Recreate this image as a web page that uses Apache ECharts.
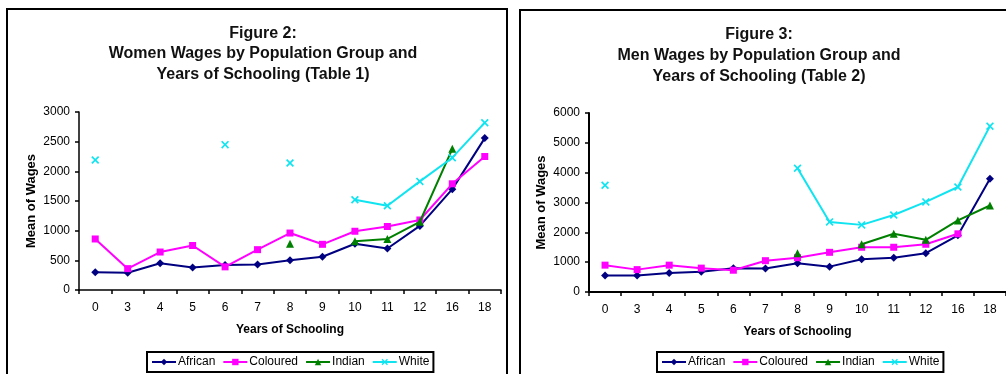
<!DOCTYPE html>
<html>
<head>
<meta charset="utf-8">
<script src="https://cdn.jsdelivr.net/npm/echarts@6/dist/echarts.min.js"></script>
<style>
  html, body { margin: 0; padding: 0; background: #fff; }
  #main { width: 1006px; height: 374px; }
</style>
</head>
<body>
<div id="main"></div>
<script>
  // years of schooling (category axis)
  var years = ['0', '3', '4', '5', '6', '7', '8', '9', '10', '11', '12', '16', '18'];
  var groups = ['African', 'Coloured', 'Indian', 'White'];

  // Figure 2 - women
  var womenAfrican = [300, 290, 450, 380, 420, 430, 500, 560, 780, 700, 1080, 1700, 2560];
  var womenColoured = [860, 360, 640, 750, 390, 680, 960, 770, 990, 1070, 1180, 1790, 2250];
  var womenIndian = [null, null, null, null, null, null, 780, null, 820, 860, 1150, 2380, null];
  var womenWhite = [2190, null, null, null, 2450, null, 2140, null, 1520, 1420, 1830, 2230, 2820];

  // Figure 3 - men
  var menAfrican = [550, 550, 640, 680, 800, 790, 960, 850, 1100, 1150, 1300, 1900, 3800];
  var menColoured = [900, 750, 900, 800, 730, 1050, 1150, 1330, 1500, 1500, 1600, 1950, null];
  var menIndian = [null, null, null, null, null, null, 1300, null, 1600, 1950, 1750, 2400, 2900];
  var menWhite = [3580, null, null, null, null, null, 4150, 2350, 2250, 2580, 3020, 3520, 5560];

  var colors = ['#000080', '#ff00ff', '#008000', '#10e4f0'];
  // thick "x" marker like the excel one
  var crossPath = 'path://M1.5,0 L5,3.5 L8.5,0 L10,1.5 L6.5,5 L10,8.5 L8.5,10 L5,6.5 L1.5,10 L0,8.5 L3.5,5 L0,1.5 Z';
  var symbols = ['diamond', 'rect', 'triangle', crossPath];
  var symbolSizes = [8, 7, 8, 8];
  var font = '"Liberation Sans", Arial, sans-serif';

  function makeSeries(idx, data) {
    return data.map(function (d, i) {
      return {
        name: groups[i],
        type: 'line',
        xAxisIndex: idx,
        yAxisIndex: idx,
        data: d,
        connectNulls: false,
        symbol: symbols[i],
        symbolSize: symbolSizes[i],
        showAllSymbol: true,
        color: colors[i],
        lineStyle: { width: 2, color: colors[i] },
        itemStyle: { color: colors[i] },
        z: 2 + i
      };
    });
  }

  function makeX(idx, w) {
    return {
      type: 'category',
      gridIndex: idx,
      data: years,
      boundaryGap: true,
      name: 'Years of Schooling',
      nameLocation: 'middle',
      nameGap: 34,
      nameTextStyle: { fontFamily: font, fontSize: 12, fontWeight: 'bold', color: '#000' },
      axisLine: { lineStyle: { color: '#000', width: w } },
      axisTick: { show: true, inside: false, length: 4, lineStyle: { color: '#000', width: 1.5 } },
      axisLabel: { fontFamily: font, fontSize: 12, color: '#000', margin: 12 },
      splitLine: { show: false }
    };
  }

  function makeY(idx, max, step, w) {
    return {
      type: 'value',
      gridIndex: idx,
      min: 0,
      max: max,
      interval: step,
      name: 'Mean of Wages',
      nameLocation: 'middle',
      nameGap: 41,
      nameTextStyle: { fontFamily: font, fontSize: 13, fontWeight: 'bold', color: '#000' },
      axisLine: { show: true, lineStyle: { color: '#000', width: w } },
      axisTick: { show: true, inside: false, length: 4, lineStyle: { color: '#000', width: 1.5 } },
      axisLabel: {
        fontFamily: font, fontSize: 12, color: '#000', margin: 9,
        formatter: function (v) { return String(v); }
      },
      splitLine: { show: false }
    };
  }

  function makeLegend(left) {
    return {
      data: groups,
      left: left,
      top: 352,
      orient: 'horizontal',
      itemWidth: 24,
      itemHeight: 8,
      itemGap: 7,
      padding: [4, 4, 4, 4],
      borderColor: '#000',
      borderWidth: 2,
      borderRadius: 0,
      selectedMode: false,
      textStyle: { fontFamily: font, fontSize: 12, color: '#000', padding: [0, 0, 0, -3] }
    };
  }

  var chart = echarts.init(document.getElementById('main'));
  chart.setOption({
    backgroundColor: '#fff',
    animation: false,
    title: [{
      text: 'Figure 2:\nWomen Wages by Population Group and\nYears of Schooling (Table 1)',
      left: 258,
      top: 18,
      textAlign: 'center',
      textStyle: { fontFamily: font, fontSize: 16, fontWeight: 'bold', color: '#111', lineHeight: 20.5 }
    }, {
      text: 'Figure 3:\nMen Wages by Population Group and\nYears of Schooling (Table 2)',
      left: 754,
      top: 19,
      textAlign: 'center',
      textStyle: { fontFamily: font, fontSize: 16, fontWeight: 'bold', color: '#111', lineHeight: 21 }
    }],
    legend: [makeLegend(147), makeLegend(657)],
    grid: [
      { left: 79, top: 112, width: 422, height: 178 },
      { left: 589, top: 113, width: 420, height: 179 }
    ],
    xAxis: [makeX(0, 1.5), makeX(1, 2)],
    yAxis: [makeY(0, 3000, 500, 1.5), makeY(1, 6000, 1000, 2)],
    graphic: [
      { type: 'rect', shape: { x: 7, y: 9, width: 500, height: 380 }, style: { fill: 'none', stroke: '#000', lineWidth: 2 }, z: -1 },
      { type: 'rect', shape: { x: 520, y: 10, width: 500, height: 380 }, style: { fill: 'none', stroke: '#000', lineWidth: 2 }, z: -1 }
    ],
    series: makeSeries(0, [womenAfrican, womenColoured, womenIndian, womenWhite])
      .concat(makeSeries(1, [menAfrican, menColoured, menIndian, menWhite]))
  });
</script>
</body>
</html>
